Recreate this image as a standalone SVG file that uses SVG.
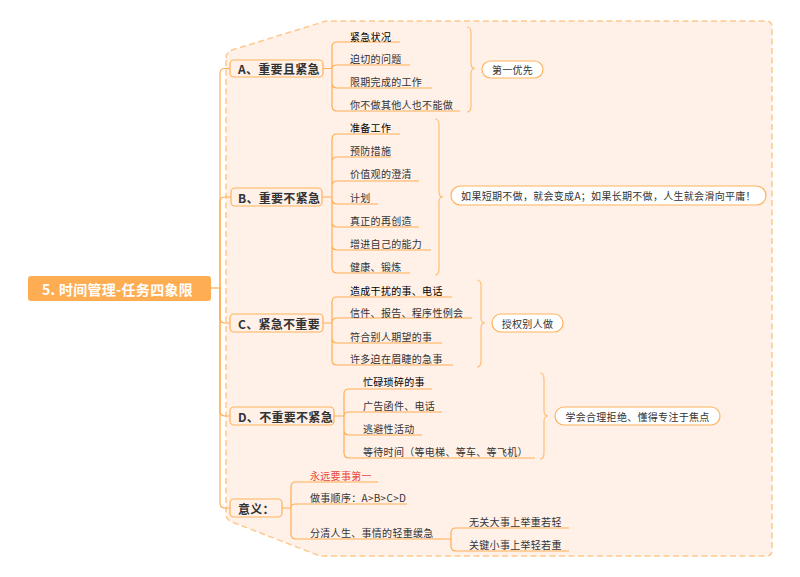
<svg xmlns="http://www.w3.org/2000/svg" width="800" height="577" viewBox="0 0 800 577">
<style>
text{font-family:"Noto Sans CJK SC","Noto Sans",sans-serif;dominant-baseline:central;}
.boundary{fill:#fff0e8;stroke:#ffc98f;stroke-width:1.5;stroke-dasharray:6 3.5;}
.conn{fill:none;stroke:#ffad52;stroke-width:1.2;}
.brace{fill:none;stroke:#ffbf78;stroke-width:1.2;}
.root{fill:#ffad52;}
.rootT{fill:#fff;font-size:14px;font-weight:bold;letter-spacing:0.3px;}
.branch{fill:#fff0e8;stroke:#ffb35c;stroke-width:1.2;}
.branchT{fill:#333;font-size:12px;font-weight:bold;letter-spacing:0.3px;}
.leafT{fill:#333;font-size:10px;letter-spacing:0.3px;}
.first{fill:#000;}
.red{fill:#e9473d;}
.sum{fill:#fff;stroke:#ffb35c;stroke-width:1.2;}
.sumT{fill:#333;font-size:10px;letter-spacing:0.3px;text-anchor:middle;}
</style>
<path class="boundary" d="M226 58 Q226 52 232 50 L326 21 L766 21 Q772 21 772 27 L772 550 Q772 556 766 556 L320 556 L232 522 Q226 520 226 514 Z"/>
<g id="connectors">
<path class="conn" d="M211 288 H220"/>
<path class="conn" d="M220 288 V73.5 Q220 68.5 225 68.5 H230"/>
<path class="conn" d="M220 288 V202 Q220 197 225 197 H231"/>
<path class="conn" d="M220 288 V318 Q220 323 225 323 H230"/>
<path class="conn" d="M220 288 V411 Q220 416 225 416 H230"/>
<path class="conn" d="M220 288 V503 Q220 508 225 508 H230"/>
<path class="conn" d="M323 68.5 H332 M332 68.5 V47 Q332 42 337 42 H400 M332 68.5 Q332 65 337 65 H410 M332 68.5 V83 Q332 88 337 88 H432 M332 68.5 V106 Q332 111 337 111 H460"/>
<path class="conn" d="M322 197 H332 M332 197 V139 Q332 134 337 134 H400 M332 197 V162 Q332 157 337 157 H391 M332 197 V186 Q332 181 337 181 H419 M332 197 V199 Q332 204 337 204 H378 M332 197 V222 Q332 227 337 227 H419 M332 197 V245 Q332 250 337 250 H431 M332 197 V268 Q332 273 337 273 H410"/>
<path class="conn" d="M323 323 H332 M332 323 V302 Q332 297 337 297 H452 M332 323 Q332 318 337 318 H472 M332 323 V338 Q332 343 337 343 H442 M332 323 V360 Q332 365 337 365 H453"/>
<path class="conn" d="M334 416 H344 M344 416 V394 Q344 389 349 389 H432 M344 416 Q344 412 349 412 H442 M344 416 V430 Q344 435 349 435 H422 M344 416 V453 Q344 458 349 458 H535"/>
<path class="conn" d="M282 508 H291 M291 508 V487 Q291 482 296 482 H378 M291 508 Q291 504 296 504 H407 M291 508 V534 Q291 539 296 539 H451"/>
<path class="conn" d="M451 539 V533 Q451 528 456 528 H569 M451 539 V546 Q451 551 456 551 H569"/>
<path class="brace" d="M467 27 Q471 27 471 33 V63.5 Q471 68.5 475 68.5 Q471 68.5 471 73.5 V106 Q471 112 467 112"/>
<path class="brace" d="M435 119 Q439 119 439 125 V192 Q439 197 443 197 Q439 197 439 202 V269 Q439 275 435 275"/>
<path class="brace" d="M477 280 Q481 280 481 286 V318 Q481 323 485 323 Q481 323 481 328 V361 Q481 367 477 367"/>
<path class="brace" d="M540 373 Q544 373 544 379 V411 Q544 416 548 416 Q544 416 544 421 V453 Q544 459 540 459"/>
</g>
<g id="root">
<rect class="root" x="28" y="276" width="183" height="25" rx="3"/>
<text class="rootT" x="42" y="288.5">5. 时间管理-任务四象限</text>
</g>
<g id="nodeA">
<rect class="branch" x="230" y="60" width="93" height="17" rx="4"/>
<text class="branchT" x="238" y="68.5">A、重要且紧急</text>
</g>
<g id="nodeA-leaves">
<text class="leafT first" x="350" y="36">紧急状况</text>
<text class="leafT" x="350" y="58">迫切的问题</text>
<text class="leafT" x="350" y="81">限期完成的工作</text>
<text class="leafT" x="350" y="104">你不做其他人也不能做</text>
</g>
<g id="sumA">
<rect class="sum" x="482" y="61" width="61" height="17" rx="8.5"/>
<text class="sumT" x="512.5" y="69.5">第一优先</text>
</g>
<g id="nodeB">
<rect class="branch" x="231" y="188" width="91" height="18" rx="4"/>
<text class="branchT" x="238" y="197">B、重要不紧急</text>
</g>
<g id="nodeB-leaves">
<text class="leafT first" x="350" y="127">准备工作</text>
<text class="leafT" x="350" y="150">预防措施</text>
<text class="leafT" x="350" y="173">价值观的澄清</text>
<text class="leafT" x="350" y="197">计划</text>
<text class="leafT" x="350" y="220">真正的再创造</text>
<text class="leafT" x="350" y="243">增进自己的能力</text>
<text class="leafT" x="350" y="266">健康、锻炼</text>
</g>
<g id="sumB">
<rect class="sum" x="451" y="186" width="315" height="19" rx="9.5"/>
<text class="sumT" x="608.5" y="195.5">如果短期不做，就会变成A；如果长期不做，人生就会滑向平庸！</text>
</g>
<g id="nodeC">
<rect class="branch" x="230" y="314" width="93" height="18" rx="4"/>
<text class="branchT" x="238" y="323">C、紧急不重要</text>
</g>
<g id="nodeC-leaves">
<text class="leafT first" x="350" y="290">造成干扰的事、电话</text>
<text class="leafT" x="350" y="312">信件、报告、程序性例会</text>
<text class="leafT" x="350" y="336">符合别人期望的事</text>
<text class="leafT" x="350" y="358">许多迫在眉睫的急事</text>
</g>
<g id="sumC">
<rect class="sum" x="492" y="314" width="71" height="18" rx="9"/>
<text class="sumT" x="527.5" y="323">授权别人做</text>
</g>
<g id="nodeD">
<rect class="branch" x="230" y="407" width="104" height="18" rx="4"/>
<text class="branchT" x="238" y="416">D、不重要不紧急</text>
</g>
<g id="nodeD-leaves">
<text class="leafT first" x="363" y="381">忙碌琐碎的事</text>
<text class="leafT" x="363" y="405">广告函件、电话</text>
<text class="leafT" x="363" y="428">逃避性活动</text>
<text class="leafT" x="363" y="451">等待时间（等电梯、等车、等飞机）</text>
</g>
<g id="sumD">
<rect class="sum" x="555" y="407" width="165" height="18" rx="9"/>
<text class="sumT" x="637.5" y="416">学会合理拒绝、懂得专注于焦点</text>
</g>
<g id="nodeE">
<rect class="branch" x="230" y="499" width="52" height="18" rx="4"/>
<text class="branchT" x="238" y="508">意义：</text>
</g>
<g id="nodeE-leaves">
<text class="leafT red" x="310" y="475">永远要事第一</text>
<text class="leafT" x="310" y="497">做事顺序：A&gt;B&gt;C&gt;D</text>
<text class="leafT" x="310" y="532">分清人生、事情的轻重缓急</text>
<text class="leafT" x="469" y="521">无关大事上举重若轻</text>
<text class="leafT" x="469" y="544">关键小事上举轻若重</text>
</g>
</svg>
